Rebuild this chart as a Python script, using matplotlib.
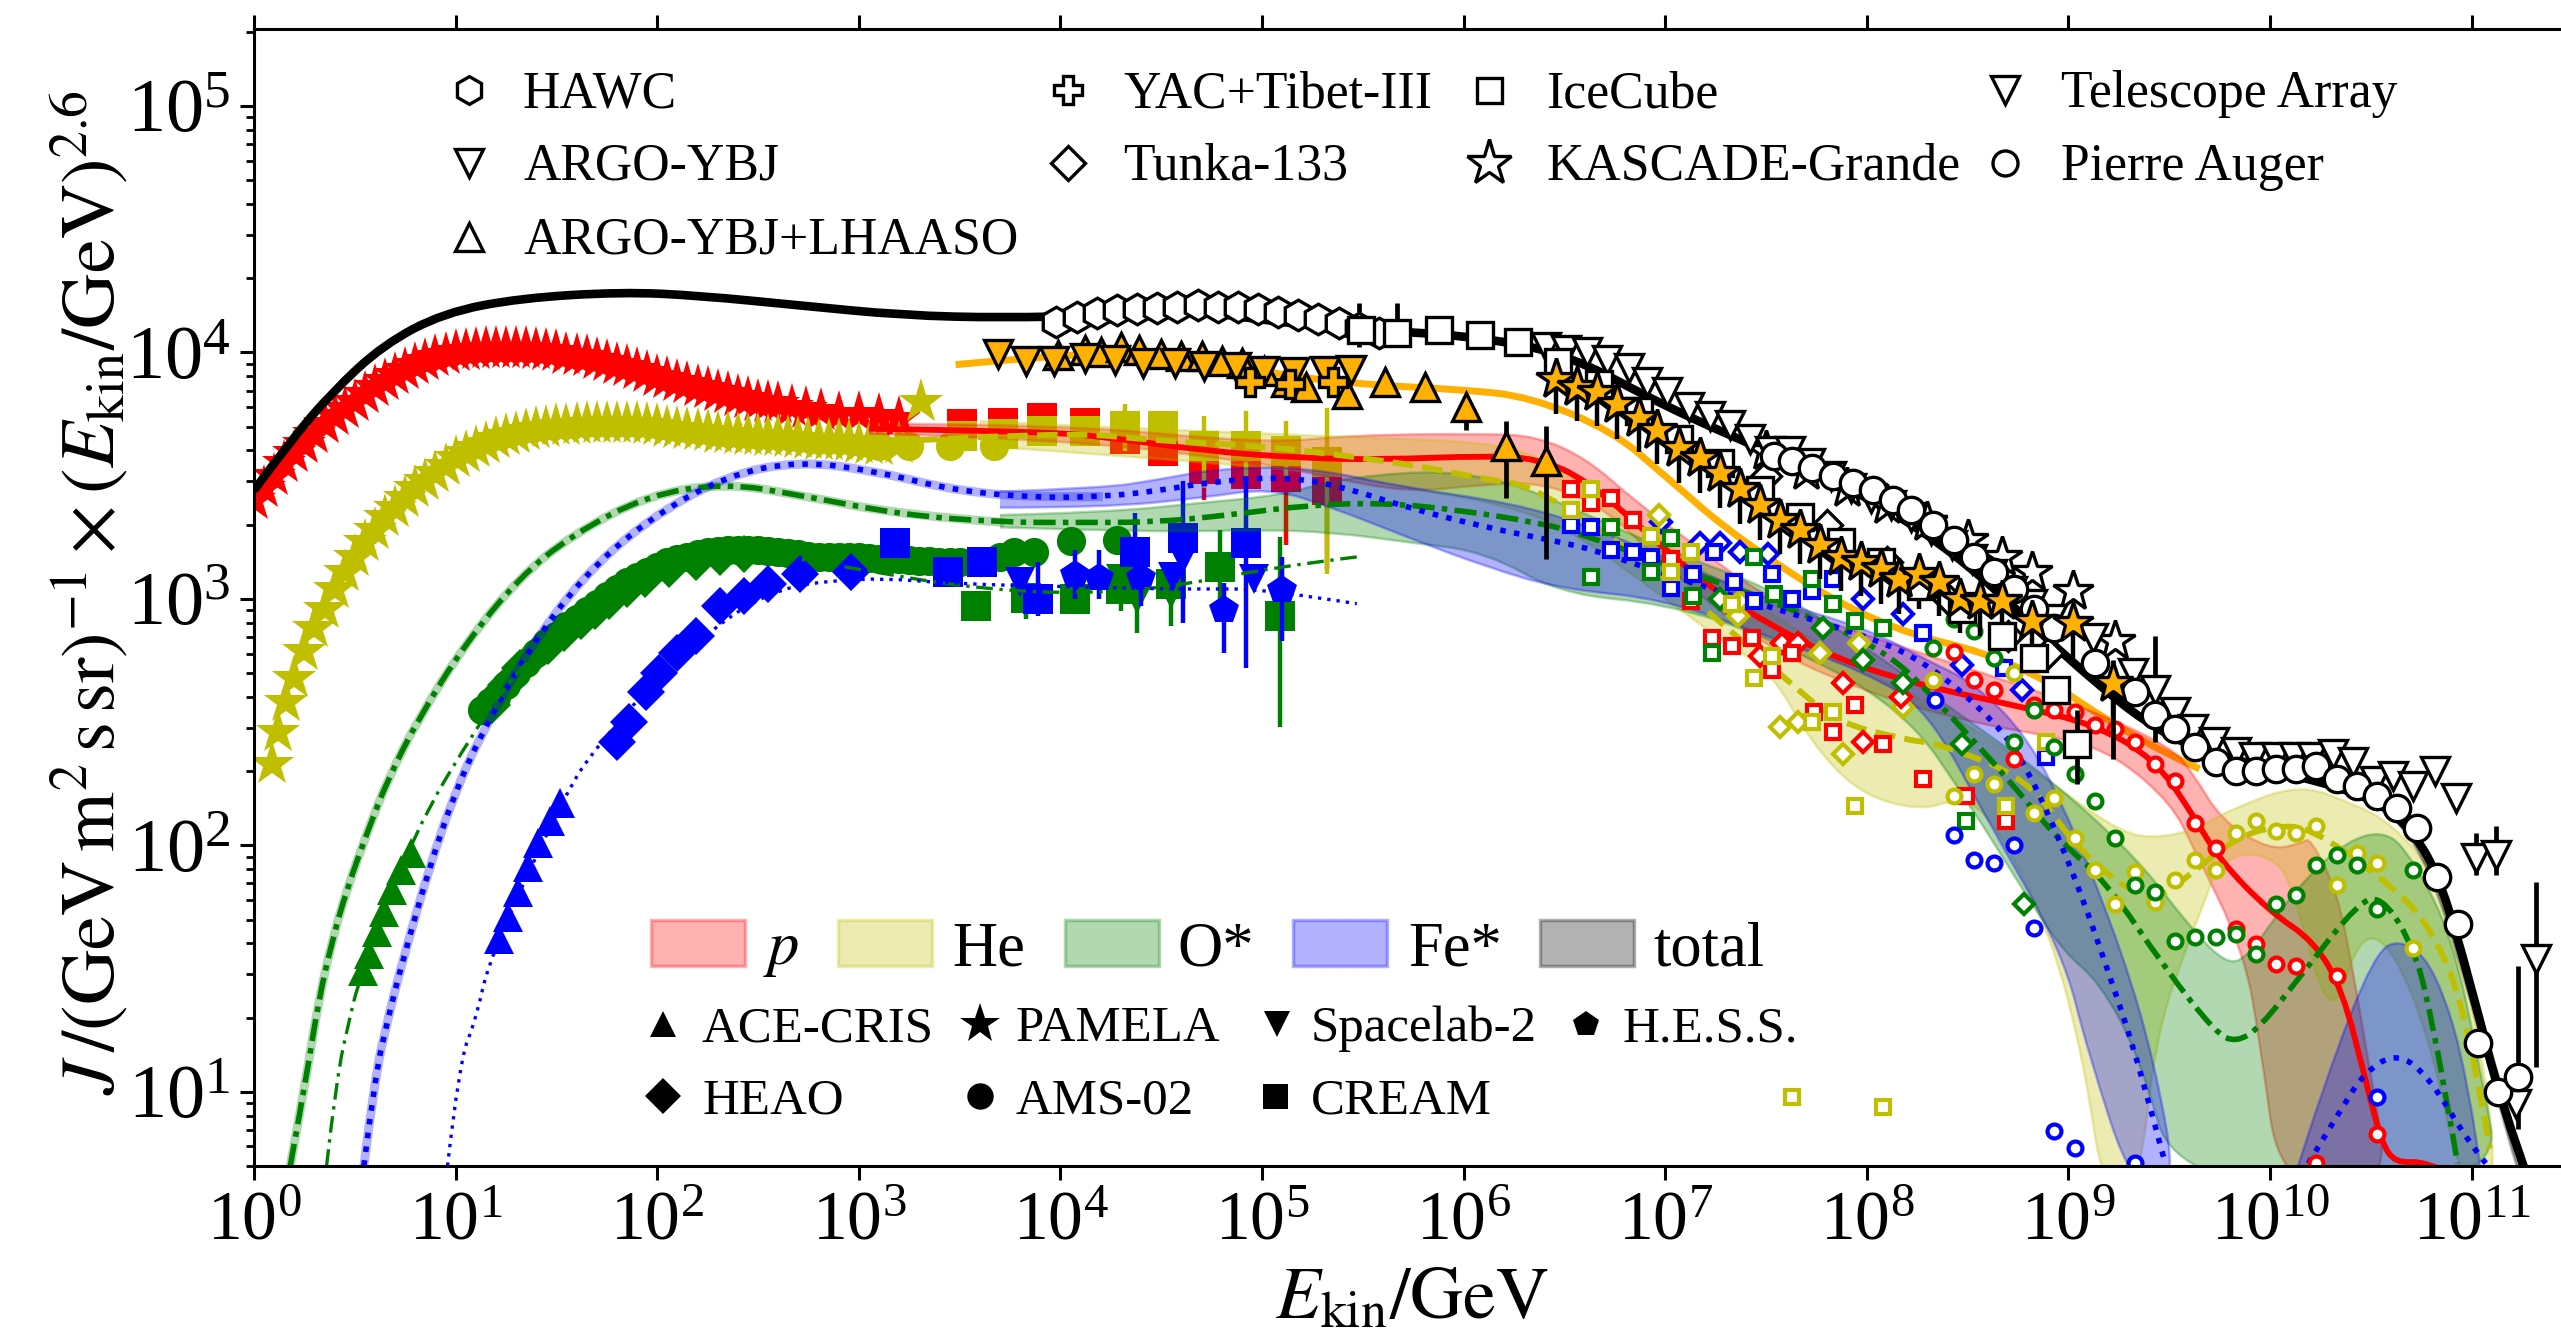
import numpy as np
import matplotlib
matplotlib.use('Agg')
import matplotlib.pyplot as plt
from matplotlib.lines import Line2D
from matplotlib.patches import PathPatch, Rectangle
from matplotlib.path import Path
from matplotlib.ticker import LogLocator, NullLocator

plt.rcParams['font.family'] = ['Liberation Serif', 'DejaVu Serif']
plt.rcParams['mathtext.fontset'] = 'stix'

# all values below are log10(E/GeV), log10(J E^2.6)
RED = '#ff0000'
OLIVE = '#bfbf00'
GREEN = '#008000'
BLUE = '#0000ff'
ORANGE = '#ffb000'

# fit curves
total_x = [0, .18, .39, .64, .94, 1.32, 1.83, 2.21, 2.71, 3.22, 3.72, 4.2, 4.6, 5, 5.5, 6, 6.5, 7, 7.5, 8, 8.5, 9, 9.5, 10, 10.5, 10.71, 10.85, 11, 11.15, 11.3]
total_y = [3.44, 3.64, 3.84, 4.03, 4.16, 4.22, 4.245, 4.23, 4.19, 4.15, 4.14, 4.15, 4.18, 4.13, 4.09, 4.07, 4.0, 3.78, 3.6, 3.42, 3.15, 2.75, 2.42, 2.31, 2.2, 2.06, 1.85, 1.42, 0.94, 0.6]
heavy_x = [3.48, 4, 4.5, 5, 5.47, 5.98, 6.33, 6.74, 6.99, 7.37, 8.04, 8.75, 9.35, 9.65]
heavy_y = [3.95, 3.99, 4.0, 3.92, 3.87, 3.85, 3.82, 3.68, 3.505, 3.235, 2.89, 2.75, 2.42, 2.31]
p_x = [3.05, 3.83, 4.21, 4.71, 5.22, 5.6, 6.11, 6.36, 6.61, 7, 7.25, 7.53, 7.84, 8.26, 8.75, 9.13, 9.43, 9.62, 9.75, 10, 10.22, 10.36, 10.47, 10.55, 10.62, 10.77, 10.95]
p_y = [3.69, 3.68, 3.66, 3.60, 3.57, 3.565, 3.58, 3.57, 3.485, 3.2, 3.03, 2.89, 2.76, 2.65, 2.565, 2.49, 2.35, 2.12, 1.94, 1.73, 1.61, 1.41, 1.06, .8, .71, .72, .65]
he_x = [3, 4, 4.5, 5, 5.42, 5.77, 6.11, 6.36, 7, 7.66, 7.85, 8.18, 8.37, 8.8, 9.02, 9.24, 9.43, 9.63, 9.83, 10.03, 10.2, 10.52, 10.79, 10.98, 11.09]
he_y = [3.63, 3.68, 3.64, 3.62, 3.58, 3.54, 3.485, 3.455, 3.1, 2.63, 2.5, 2.43, 2.41, 2.27, 2.01, 1.85, 1.77, 1.9, 2.03, 2.08, 2.07, 1.89, 1.69, 1.31, .77]
o_x = [.18, .26, .32, .39, .46, .565, .665, .82, 1.05, 1.32, 1.58, 1.95, 2.34, 2.71, 3.22, 3.72, 4.08, 4.46, 4.84, 5.22, 5.6, 5.98, 6.36, 6.56, 7, 7.5, 8.09, 8.4, 8.7, 8.94, 9.19, 9.48, 9.73, 9.83, 9.95, 10.16, 10.44, 10.55, 10.68, 10.79, 10.93]
o_y = [.7, 1.06, 1.37, 1.62, 1.82, 2.06, 2.27, 2.52, 2.82, 3.09, 3.26, 3.42, 3.47, 3.42, 3.34, 3.31, 3.31, 3.31, 3.34, 3.38, 3.39, 3.36, 3.31, 3.27, 3.14, 3.0, 2.8, 2.54, 2.27, 2.03, 1.85, 1.5, 1.24, 1.2, 1.26, 1.48, 1.77, 1.79, 1.64, 1.38, .71]
o_thin_x = [.36, .41, .475, .52, .79, 1.12, 1.3, 1.6, 2, 2.5, 3, 3.5, 4, 4.5, 5.07, 5.47]
o_thin_y = [.7, 1.06, 1.3, 1.45, 2.05, 2.5, 2.7, 2.95, 3.12, 3.19, 3.12, 3.05, 3.02, 3.04, 3.13, 3.17]
fe_x = [.545, .6, .665, .74, .87, .99, 1.12, 1.35, 1.63, 1.95, 2.34, 2.71, 3.1, 3.47, 3.88, 4.21, 4.46, 4.79, 5.14, 5.42, 5.72, 6.11, 6.48, 6.64, 7, 7.5, 8, 8.3, 8.64, 8.8, 9.02, 9.21, 9.35, 9.48]
fe_y = [.7, 1.06, 1.3, 1.54, 1.91, 2.2, 2.44, 2.78, 3.09, 3.32, 3.5, 3.56, 3.515, 3.44, 3.41, 3.415, 3.435, 3.48, 3.495, 3.45, 3.37, 3.29, 3.23, 3.2, 3.1, 2.97, 2.85, 2.74, 2.5, 2.31, 1.9, 1.46, 1.11, .71]
fe2_x = [10.19, 10.36, 10.47, 10.63, 10.79, 10.98, 11.07]
fe2_y = [.71, .94, 1.08, 1.16, 1.06, .8, .71]
fe_thin_x = [.96, 1.02, 1.1, 1.17, 1.55, 1.7, 2, 2.5, 3, 3.5, 4, 4.5, 4.71, 5.01, 5.47]
fe_thin_y = [.7, 1.13, 1.29, 1.55, 2.22, 2.4, 2.68, 3.03, 3.09, 3.06, 3.05, 3.04, 3.04, 3.04, 2.98]

# uncertainty bands, outline going up then back along the lower edge
p_band_x = [3.05, 4, 5, 5.47, 6.11, 6.36, 6.61, 6.86, 7.12, 7.5, 8, 8.5, 9.08, 9.51, 9.62, 9.76, 10, 10.16, 10.2, 10.33, 10.41, 10.49, 10.6,
            10.05, 9.95, 9.87, 9.62, 9.51, 9.24, 9, 8.5, 8, 7.5, 7, 6.7, 6.4, 6.11, 5.72, 5.3, 5, 4, 3.05]
p_band_y = [3.71, 3.71, 3.63, 3.665, 3.67, 3.66, 3.57, 3.39, 3.235, 3.0, 2.85, 2.72, 2.56, 2.40, 2.29, 2.10, 1.98, 2.01, 2.03, 1.82, 1.50, 1.11, .6,
            .6, 1.2, 1.57, 1.99, 2.17, 2.36, 2.43, 2.5, 2.62, 2.8, 3.13, 3.37, 3.47, 3.465, 3.43, 3.5, 3.55, 3.65, 3.67]
he_band_x = [3.6, 5.22, 6.11, 6.4, 6.7, 7, 7.5, 8, 8.5, 9, 9.27, 9.43, 9.62, 9.79, 10.14, 10.41, 10.6, 10.82, 10.98, 11.15,
             10.95, 10.8, 10.6, 10.44, 10.3, 10.1, 10, 9.85, 9.73, 9.68, 9.6, 9.43, 9.35, 9.17, 9.08, 8.91, 8.62, 8.45, 8.26, 7.96, 7.72, 7.53, 7.3, 7, 6.5, 6.1, 5.7, 5.22, 3.6]
he_band_y = [3.72, 3.66, 3.64, 3.57, 3.42, 3.22, 2.95, 2.7, 2.5, 2.2, 2.05, 2.03, 2.06, 2.14, 2.25, 2.17, 2.09, 1.89, 1.5, .6,
             .6, 1.2, 1.6, 1.64, 1.25, 1.87, 1.95, 1.97, 1.9, 1.78, 1.62, 1.22, .6, .6, 1.11, 1.65, 2.12, 2.19, 2.14, 2.21, 2.42, 2.7, 2.82, 3.0, 3.3, 3.4, 3.45, 3.53, 3.62]
o_band_x = [3.7, 4.21, 4.71, 5.09, 5.35, 5.72, 5.98, 6.23, 6.48, 7, 7.5, 7.88, 8.48, 8.91, 9.35, 9.59, 9.79, 9.9, 10, 10.16, 10.38, 10.58, 10.71, 10.9, 11.04, 11.15,
            9.54, 9.35, 9.15, 8.97, 8.75, 8.53, 8.18, 7.5, 7, 6.48, 6.11, 5.72, 5.35, 4.97, 4.46, 3.7]
o_band_y = [3.34, 3.35, 3.39, 3.42, 3.48, 3.515, 3.51, 3.47, 3.39, 3.2, 3.05, 2.87, 2.52, 2.27, 1.94, 1.68, 1.51, 1.56, 1.68, 1.85, 2.02, 2.06, 1.94, 1.64, 1.11, .6,
            .6, 1.15, 1.45, 1.57, 1.85, 2.14, 2.56, 2.85, 2.98, 3.02, 3.19, 3.23, 3.27, 3.28, 3.27, 3.29]
fe_band_x = [3.7, 4.21, 4.46, 4.79, 5.22, 5.72, 6.23, 6.61, 6.99, 7.5, 8, 8.3, 8.53, 8.8, 9.02, 9.27, 9.43, 9.54,
             9.32, 9.1, 8.97, 8.6, 8.3, 8, 7.5, 6.99, 6.48, 6.11, 5.72, 5.35, 5.04, 4.71, 4.21, 3.7]
fe_band_y = [3.435, 3.45, 3.48, 3.53, 3.535, 3.45, 3.39, 3.30, 3.17, 3.0, 2.88, 2.75, 2.66, 2.44, 2.08, 1.56, 1.11, .6,
             .6, 1.15, 1.57, 2.1, 2.55, 2.7, 2.85, 3.0, 3.04, 3.13, 3.25, 3.37, 3.45, 3.41, 3.37, 3.37]
fe2_band_x = [10.1, 10.27, 10.52, 10.66, 10.82, 10.98, 11.06]
fe2_band_y = [.6, 1.04, 1.57, 1.62, 1.5, 1.08, .6]
total_band_x = [9.9, 10.5, 10.7, 10.9, 11.1, 11.3, 11.25, 11.0, 10.8, 10.6, 10.4, 9.9]
total_band_y = [2.34, 2.24, 2.12, 1.75, 1.15, .6, .6, 1.36, 1.9, 2.14, 2.24, 2.29]

# low energy data
pam_p_x = [0, .05, .1, .15, .2, .25, .3, .35, .4, .45, .5, .55, .6, .65, .7, .75, .8, .85, .9, .95, 1, 1.05, 1.1, 1.15, 1.2, 1.25, 1.3, 1.35, 1.4, 1.45, 1.5, 1.55, 1.6, 1.65, 1.7, 1.75, 1.8, 1.85, 1.9, 1.95, 2, 2.05, 2.1, 2.15, 2.2, 2.25, 2.3, 2.35, 2.4, 2.45, 2.5, 2.55, 2.6, 2.67, 2.74, 2.81, 2.9, 3, 3.1, 3.2]
pam_p_y = [3.4, 3.45, 3.5, 3.55, 3.59, 3.63, 3.67, 3.71, 3.74, 3.77, 3.8, 3.83, 3.86, 3.885, 3.91, 3.93, 3.95, 3.965, 3.98, 3.99, 4, 4.005, 4.01, 4.015, 4.015, 4.015, 4.015, 4.012, 4.01, 4.005, 4, 3.99, 3.985, 3.98, 3.97, 3.96, 3.95, 3.94, 3.93, 3.915, 3.9, 3.89, 3.88, 3.87, 3.86, 3.85, 3.84, 3.83, 3.82, 3.81, 3.8, 3.795, 3.79, 3.78, 3.77, 3.76, 3.75, 3.75, 3.74, 3.73]
pam_he_x = [.09, .12, .16, .2, .25, .3, .35, .4, .45, .5, .55, .6, .65, .7, .75, .8, .85, .9, .95, 1, 1.05, 1.1, 1.15, 1.2, 1.25, 1.3, 1.35, 1.4, 1.45, 1.5, 1.55, 1.6, 1.65, 1.7, 1.75, 1.8, 1.85, 1.9, 1.95, 2, 2.05, 2.1, 2.15, 2.2, 2.25, 2.3, 2.35, 2.4, 2.45, 2.5, 2.55, 2.6, 2.65, 2.7, 2.75, 2.8, 2.85, 2.9, 2.95, 3, 3.05, 3.1, 3.2, 3.31]
pam_he_y = [2.33, 2.46, 2.58, 2.68, 2.79, 2.88, 2.96, 3.04, 3.11, 3.17, 3.23, 3.28, 3.33, 3.37, 3.41, 3.45, 3.48, 3.51, 3.54, 3.57, 3.59, 3.61, 3.63, 3.65, 3.66, 3.67, 3.68, 3.69, 3.695, 3.70, 3.703, 3.705, 3.708, 3.71, 3.71, 3.71, 3.71, 3.71, 3.705, 3.70, 3.695, 3.69, 3.685, 3.68, 3.675, 3.67, 3.668, 3.665, 3.662, 3.66, 3.658, 3.655, 3.652, 3.65, 3.645, 3.64, 3.64, 3.64, 3.635, 3.63, 3.625, 3.62, 3.63, 3.80]
ace_o_x = [.54, .57, .61, .645, .685, .73, .78]
ace_o_y = [1.49, 1.56, 1.65, 1.73, 1.82, 1.90, 1.97]
ace_fe_x = [1.215, 1.26, 1.31, 1.36, 1.41, 1.47, 1.52]
ace_fe_y = [1.62, 1.71, 1.81, 1.91, 2.01, 2.10, 2.17]
heao_fe_x = [1.80, 1.86, 1.945, 2.01, 2.1, 2.19, 2.31, 2.43, 2.55, 2.71, 2.96]
heao_fe_y = [2.42, 2.50, 2.62, 2.70, 2.78, 2.85, 2.97, 3.01, 3.06, 3.10, 3.11]
heao_o_x = [1.18, 1.25, 1.32, 1.39, 1.46, 1.54, 1.62, 1.69, 1.76, 1.85, 1.94, 2.06, 2.19, 2.31, 2.43]
heao_o_y = [2.57, 2.65, 2.72, 2.77, 2.81, 2.86, 2.91, 2.95, 2.99, 3.04, 3.08, 3.12, 3.15, 3.17, 3.18]
ams_o_x = [1.13, 1.17, 1.2, 1.25, 1.3, 1.35, 1.4, 1.45, 1.5, 1.55, 1.6, 1.65, 1.7, 1.75, 1.8, 1.85, 1.9, 1.95, 2, 2.05, 2.1, 2.15, 2.2, 2.25, 2.3, 2.35, 2.4, 2.45, 2.5, 2.55, 2.6, 2.65, 2.7, 2.75, 2.8, 2.85, 2.9, 2.95, 3, 3.05, 3.1, 3.15, 3.2, 3.25, 3.3, 3.35, 3.4, 3.45, 3.5, 3.6, 3.7, 3.77, 3.87, 4.05, 4.28]
ams_o_y = [2.55, 2.58, 2.6, 2.65, 2.7, 2.74, 2.78, 2.82, 2.85, 2.89, 2.92, 2.95, 2.98, 3.01, 3.04, 3.07, 3.09, 3.11, 3.13, 3.15, 3.16, 3.17, 3.18, 3.19, 3.195, 3.2, 3.2, 3.2, 3.2, 3.195, 3.19, 3.185, 3.18, 3.175, 3.17, 3.17, 3.17, 3.17, 3.17, 3.165, 3.16, 3.16, 3.16, 3.157, 3.155, 3.152, 3.15, 3.15, 3.15, 3.15, 3.17, 3.19, 3.19, 3.235, 3.24]
ams_he_x = [3.1, 3.25, 3.45, 3.67]
ams_he_y = [3.62, 3.62, 3.62, 3.62]
cream_x = [3.51, 3.715, 3.91, 4.12, 4.32, 4.51, 4.71, 4.92, 5.12, 5.32]
cream_p_y = [3.71, 3.715, 3.735, 3.715, 3.65, 3.60, 3.525, 3.505, 3.495, 3.44]
cream_he_y = [3.66, 3.67, 3.68, 3.68, 3.70, 3.70, 3.62, 3.62, 3.60, 3.555]
cream_o_x = [3.58, 3.83, 4.07, 4.30, 4.55, 4.79, 5.09]
cream_o_y = [2.97, 3.005, 3.0, 3.04, 3.06, 3.13, 2.93]
cream_fe_x = [3.18, 3.44, 3.61, 3.89, 4.37, 4.61, 4.92]
cream_fe_y = [3.225, 3.11, 3.15, 3.0, 3.19, 3.245, 3.225]
hess_x = [4.07, 4.19, 4.40, 4.81, 5.10]
hess_y = [3.095, 3.085, 3.085, 2.955, 3.035]
sl2_fe_x = [3.80, 4.56, 4.61, 4.96]
sl2_fe_y = [3.07, 3.09, 3.16, 3.08]
sl2_o_x = [4.30, 4.38, 4.55]
sl2_o_y = [3.08, 3.0, 3.02]

# all particle experiments
hawc_x = [3.98, 4.08, 4.18, 4.28, 4.38, 4.48, 4.58, 4.68, 4.78, 4.88, 4.98, 5.08, 5.18, 5.28, 5.38, 5.48, 5.58]
hawc_y = [4.125, 4.145, 4.16, 4.17, 4.175, 4.18, 4.185, 4.19, 4.185, 4.185, 4.175, 4.165, 4.15, 4.135, 4.12, 4.10, 4.08]
ice_x = [5.49, 5.67, 5.88, 6.08, 6.27, 6.47, 6.67, 6.87, 7.07, 7.27, 7.47, 7.67, 7.87, 8.07, 8.27, 8.47, 8.67, 8.83, 8.94, 9.04]
ice_y = [4.09, 4.08, 4.09, 4.07, 4.04, 3.96, 3.87, 3.76, 3.65, 3.55, 3.44, 3.33, 3.23, 3.15, 3.05, 2.96, 2.85, 2.76, 2.63, 2.41]
ta_x = [6.41, 6.51, 6.61, 6.71, 6.82, 6.91, 7.01, 7.12, 7.22, 7.32, 7.42, 7.52, 7.62, 7.72, 7.82, 7.92, 8.02, 8.12, 8.22, 8.32, 8.42, 8.52, 8.62, 8.72, 8.82, 8.92, 9.12, 9.32, 9.43, 9.53, 9.62, 9.72, 9.83, 9.92, 10.03, 10.12, 10.21, 10.31, 10.41, 10.52, 10.61, 10.71, 10.82, 10.92, 11.02, 11.12, 11.22, 11.32]
ta_y = [4.02, 4.01, 4.0, 3.97, 3.935, 3.88, 3.84, 3.78, 3.74, 3.705, 3.65, 3.60, 3.60, 3.55, 3.50, 3.45, 3.41, 3.38, 3.33, 3.28, 3.22, 3.16, 3.10, 3.03, 2.98, 2.92, 2.84, 2.70, 2.63, 2.54, 2.47, 2.42, 2.38, 2.36, 2.36, 2.36, 2.36, 2.37, 2.34, 2.26, 2.28, 2.24, 2.30, 2.19, 1.95, 1.96, 0.95, 1.54]
tunka_x = [7.5, 7.8, 8.1, 8.4, 8.7, 8.9]
tunka_y = [3.5, 3.3, 3.15, 3.0, 2.85, 2.78]
kas_w_x = [7.5, 7.7, 7.9, 8.1, 8.3, 8.5, 8.67, 8.82, 9.02, 9.23]
kas_w_y = [3.6, 3.52, 3.45, 3.38, 3.31, 3.24, 3.17, 3.11, 3.03, 2.83]
auger_x = [7.54, 7.63, 7.73, 7.83, 7.93, 8.03, 8.13, 8.22, 8.33, 8.43, 8.53, 8.63, 8.73, 8.83, 8.93, 9.13, 9.33, 9.43, 9.53, 9.63, 9.73, 9.83, 9.93, 10.03, 10.13, 10.23, 10.33, 10.43, 10.53, 10.63, 10.73, 10.83, 10.93, 11.03, 11.13, 11.23]
auger_y = [3.58, 3.56, 3.53, 3.50, 3.47, 3.44, 3.40, 3.36, 3.30, 3.24, 3.17, 3.11, 3.04, 2.96, 2.88, 2.74, 2.62, 2.53, 2.47, 2.40, 2.34, 2.30, 2.30, 2.31, 2.31, 2.32, 2.27, 2.24, 2.20, 2.15, 2.07, 1.87, 1.68, 1.20, 1.00, 1.06]
kas_o_x = [6.46, 6.56, 6.66, 6.76, 6.87, 6.96, 7.07, 7.17, 7.27, 7.37, 7.47, 7.57, 7.67, 7.77, 7.87, 7.97, 8.07, 8.16, 8.26, 8.36, 8.46, 8.56, 8.67, 8.82, 9.02, 9.22]
kas_o_y = [3.89, 3.86, 3.84, 3.79, 3.735, 3.685, 3.61, 3.57, 3.51, 3.445, 3.38, 3.32, 3.28, 3.22, 3.17, 3.15, 3.12, 3.08, 3.10, 3.07, 3.00, 2.99, 2.99, 2.91, 2.90, 2.66]
tibet_x = [4.94, 5.14, 5.35]
tibet_y = [3.88, 3.87, 3.88]
argo_x = [3.69, 3.83, 3.97, 4.12, 4.27, 4.41, 4.57, 4.71, 4.87, 5.01, 5.16, 5.31, 5.44]
argo_y = [3.995, 3.965, 3.965, 3.975, 3.97, 3.955, 3.955, 3.945, 3.94, 3.925, 3.92, 3.925, 3.93]
lhaaso_x = [3.99, 4.12, 4.20, 4.30, 4.39, 4.50, 4.60, 4.70, 4.80, 4.90, 5.01, 5.12, 5.22, 5.42, 5.61, 5.81, 6.01, 6.21, 6.41]
lhaaso_y = [3.99, 4.01, 4.0, 4.02, 4.01, 3.995, 3.985, 3.985, 3.965, 3.955, 3.925, 3.88, 3.86, 3.83, 3.88, 3.86, 3.78, 3.62, 3.56]

# open symbols at high energy
sq_p_x = [6.53, 6.63, 6.73, 6.84, 7.03, 7.13, 7.23, 7.33, 7.43, 7.53, 7.63, 7.74, 7.83, 7.94, 8.08, 8.28, 8.49, 8.69]
sq_p_y = [3.445, 3.39, 3.41, 3.32, 3.16, 2.99, 2.84, 2.81, 2.84, 2.71, 2.78, 2.54, 2.46, 2.57, 2.41, 2.27, 2.20, 2.10]
sq_he_x = [6.53, 6.63, 6.93, 7.03, 7.13, 7.33, 7.53, 7.44, 7.73, 7.83, 7.94, 8.69, 8.89, 7.63, 8.08]
sq_he_y = [3.36, 3.445, 3.255, 3.11, 3.19, 2.98, 2.77, 2.68, 2.50, 2.54, 2.16, 2.16, 2.42, .98, .94]
sq_o_x = [6.63, 6.73, 6.93, 7.03, 7.14, 7.23, 7.44, 7.54, 7.73, 7.83, 7.94, 8.08, 8.49]
sq_o_y = [3.09, 3.29, 3.11, 3.245, 3.01, 2.78, 3.17, 3.02, 3.08, 2.98, 2.91, 2.88, 2.10]
sq_fe_x = [6.53, 6.63, 6.73, 6.84, 6.93, 7.03, 7.14, 7.24, 7.34, 7.44, 7.53, 7.63, 7.73, 7.83, 8.28, 8.68, 8.89]
sq_fe_y = [3.30, 3.29, 3.20, 3.19, 3.17, 3.045, 3.10, 3.19, 3.07, 2.99, 3.10, 3.0, 3.03, 3.08, 2.86, 2.72, 2.36]
dm_he_x = [6.97, 7.36, 7.37, 7.57, 7.66, 7.77, 7.88, 7.96, 8.18]
dm_he_y = [3.34, 2.93, 2.99, 2.48, 2.50, 2.78, 2.37, 2.82, 2.56]
dm_p_x = [7.47, 7.58, 7.66, 7.88, 7.98, 8.17]
dm_p_y = [2.77, 2.82, 2.82, 2.66, 2.42, 2.60]
dm_o_x = [7.27, 7.78, 7.98, 8.18, 8.47, 8.78]
dm_o_y = [3.0, 2.88, 2.75, 2.66, 2.41, 1.76]
dm_fe_x = [6.98, 7.17, 7.27, 7.37, 7.51, 7.98, 8.18, 8.47, 8.77]
dm_fe_y = [3.31, 3.225, 3.225, 3.19, 3.18, 3.0, 2.94, 2.73, 2.63]
ci_p_x = [8.43, 8.53, 8.63, 8.73, 8.83, 8.93, 9.03, 9.13, 9.23, 9.33, 9.43, 9.53, 9.63, 9.73, 9.83, 9.93, 10.03, 10.13, 10.23, 10.33, 10.53]
ci_p_y = [2.785, 2.67, 2.63, 2.35, 2.57, 2.55, 2.54, 2.49, 2.47, 2.42, 2.33, 2.26, 2.09, 1.99, 1.66, 1.60, 1.52, 1.51, .71, 1.47, .83]
ci_he_x = [8.33, 8.43, 8.53, 8.63, 8.73, 8.83, 8.93, 9.03, 9.13, 9.23, 9.33, 9.43, 9.53, 9.63, 9.73, 9.83, 9.93, 10.03, 10.13, 10.23, 10.33, 10.43, 10.53, 10.71]
ci_he_y = [2.67, 2.20, 2.29, 2.25, 2.70, 2.13, 2.19, 2.03, 1.90, 1.76, 1.89, 1.77, 1.86, 1.94, 1.90, 2.05, 2.10, 2.06, 2.05, 2.08, 1.84, 1.97, 1.93, 1.585]
ci_o_x = [8.33, 8.43, 8.53, 8.63, 8.73, 8.83, 8.93, 9.03, 9.13, 9.23, 9.33, 9.43, 9.53, 9.63, 9.73, 9.83, 9.93, 10.03, 10.13, 10.23, 10.33, 10.43, 10.53, 10.71]
ci_o_y = [2.80, 2.92, 2.87, 2.76, 2.42, 2.55, 2.40, 2.29, 2.18, 2.03, 1.84, 1.81, 1.61, 1.63, 1.63, 1.64, 1.56, 1.76, 1.80, 1.92, 1.96, 1.92, 1.74, 1.90]
ci_fe_x = [8.34, 8.43, 8.53, 8.63, 8.73, 8.83, 8.93, 9.03, 9.33, 10.53]
ci_fe_y = [2.59, 2.04, 1.94, 1.93, 2.0, 1.665, .84, .77, .71, .98]

# error bars: x, low, high
bars_black_x = [5.48, 5.67, 6.01, 6.21, 6.41, 9.04, 9.22, 9.43, 11.02, 11.12, 11.23, 11.32]
bars_black_lo = [4.02, 4.03, 3.685, 3.41, 3.16, 2.25, 2.35, 2.42, 1.88, 1.88, .85, 1.10]
bars_black_hi = [4.2, 4.2, 3.78, 3.72, 3.70, 2.55, 2.75, 2.85, 2.05, 2.08, 1.51, 1.85]
bars_blue_x = [3.89, 4.07, 4.19, 4.37, 4.61, 4.81, 4.92, 5.10, 4.40]
bars_blue_lo = [2.93, 3.0, 3.0, 3.1, 2.90, 2.78, 2.72, 2.83, 2.97]
bars_blue_hi = [3.15, 3.2, 3.2, 3.35, 3.48, 3.065, 3.495, 3.17, 3.2]
bars_green_x = [3.83, 4.30, 4.38, 4.55, 4.79, 5.09]
bars_green_lo = [2.92, 2.95, 2.86, 2.89, 2.98, 2.48]
bars_green_hi = [3.1, 3.14, 3.1, 3.15, 3.28, 3.25]
bars_red_x = [4.71, 5.12, 5.32]
bars_red_lo = [3.4, 3.22, 3.12]
bars_red_hi = [3.56, 3.53, 3.5]
bars_olive_x = [4.32, 4.71, 4.92, 5.12, 5.32]
bars_olive_lo = [3.6, 3.45, 3.5, 3.5, 3.10]
bars_olive_hi = [3.79, 3.74, 3.76, 3.72, 3.775]

W, H = 2561, 1332
AX_L, AX_R, AX_T, AX_B = 254, 2561, 29, 1166


def px(x, y):
    return x / W, 1 - y / H


def lin(v):
    return 10 ** np.asarray(v, dtype=float)


def curve_path(x, y):
    # quadratic bezier path with the read points as control points
    pts = np.column_stack([lin(x), lin(y)])
    verts = [pts[0]]
    codes = [Path.MOVETO]
    for i in range(1, len(pts) - 1):
        if i == len(pts) - 2:
            end = pts[i + 1]
        else:
            end = np.sqrt(pts[i] * pts[i + 1])
        verts += [pts[i], end]
        codes += [Path.CURVE3, Path.CURVE3]
    return Path(np.array(verts), codes)


fig = plt.figure(figsize=(W / 100, H / 100), dpi=100)
ax = fig.add_axes([AX_L / W, 1 - AX_B / H, (AX_R - AX_L) / W, (AX_B - AX_T) / H])
ax.set_xscale('log')
ax.set_yscale('log')
ax.set_xlim(1, 10 ** 11.443)
ax.set_ylim(5, 2.05e5)


def band(x, y, color, z=5):
    ax.add_patch(PathPatch(curve_path(x, y), facecolor=color, edgecolor=color, alpha=0.3, lw=1.8, zorder=z))


def line(x, y, color, ls='-', lw=4.0, z=6, alpha=1.0):
    ax.add_patch(PathPatch(curve_path(x, y), fill=False, edgecolor=color, ls=ls, lw=lw, zorder=z,
                           alpha=alpha, capstyle='butt'))


def filled(x, y, color, m, ms, z=3):
    ax.plot(lin(x), lin(y), ls='none', marker=m, ms=ms, mfc=color, mec=color, mew=0, zorder=z)


def open_pts(x, y, color, m, ms=9.5, z=8):
    ax.plot(lin(x), lin(y), ls='none', marker=m, ms=ms, mfc='white', mec=color, mew=3.0, zorder=z)


def boxed(x, y, face, m, ms, z=10):
    ax.plot(lin(x), lin(y), ls='none', marker=m, ms=ms, mfc=face, mec='black', mew=2.4, zorder=z)


# bands and fits
band(p_band_x, p_band_y, RED)
band(he_band_x, he_band_y, OLIVE)
band(o_band_x, o_band_y, GREEN)
band(fe_band_x, fe_band_y, BLUE)
band(fe2_band_x, fe2_band_y, BLUE)
band(total_band_x, total_band_y, 'black')
line(o_x[:16], o_y[:16], GREEN, lw=6.5, z=5, alpha=0.3)
line(fe_x[:16], fe_y[:16], BLUE, lw=6.5, z=5, alpha=0.3)

line(total_x, total_y, 'black', lw=6.2, z=6)
line(heavy_x, heavy_y, ORANGE, lw=5.0, z=2)
line(p_x, p_y, RED, lw=4.2)
line(he_x, he_y, OLIVE, ls=(0, (3.5, 1.6)), lw=4.2)
line(o_x, o_y, GREEN, ls=(0, (4, 1.3, 1, 1.3)), lw=4.0)
line(fe_x, fe_y, BLUE, ls=(0, (1, 1.5)), lw=4.0)
line(fe2_x, fe2_y, BLUE, ls=(0, (1, 1.5)), lw=4.0)
line(o_thin_x, o_thin_y, GREEN, ls=(0, (5, 2, 1, 2)), lw=2.4)
line(fe_thin_x, fe_thin_y, BLUE, ls=(0, (1, 1.8)), lw=2.4)

# low energy data
ax.vlines(lin(bars_red_x), lin(bars_red_lo), lin(bars_red_hi), color=RED, lw=3.2, zorder=3)
filled(pam_p_x, pam_p_y, RED, '*', 34)
filled(cream_x, cream_p_y, RED, 's', 21)
ax.vlines(lin(bars_olive_x), lin(bars_olive_lo), lin(bars_olive_hi), color=OLIVE, lw=3.2, zorder=3)
filled(pam_he_x, pam_he_y, OLIVE, '*', 34)
filled(ams_he_x, ams_he_y, OLIVE, 'o', 21)
filled(cream_x, cream_he_y, OLIVE, 's', 21)
ax.vlines(lin(bars_green_x), lin(bars_green_lo), lin(bars_green_hi), color=GREEN, lw=3.2, zorder=3)
filled(ace_o_x, ace_o_y, GREEN, '^', 22)
filled(ams_o_x, ams_o_y, GREEN, 'o', 21)
filled(heao_o_x, heao_o_y, GREEN, 'D', 19)
filled(sl2_o_x, sl2_o_y, GREEN, 'v', 22)
filled(cream_o_x, cream_o_y, GREEN, 's', 21)
ax.vlines(lin(bars_blue_x), lin(bars_blue_lo), lin(bars_blue_hi), color=BLUE, lw=3.2, zorder=4)
filled(ace_fe_x, ace_fe_y, BLUE, '^', 22, z=4)
filled(heao_fe_x, heao_fe_y, BLUE, 'D', 19, z=4)
filled(sl2_fe_x, sl2_fe_y, BLUE, 'v', 22, z=4)
filled(cream_fe_x, cream_fe_y, BLUE, 's', 21, z=4)
filled(hess_x, hess_y, BLUE, 'p', 22, z=4)

# open coloured symbols
open_pts(dm_fe_x, dm_fe_y, BLUE, 'D', 10)
open_pts(dm_he_x, dm_he_y, OLIVE, 'D', 10)
open_pts(dm_p_x, dm_p_y, RED, 'D', 10)
open_pts(dm_o_x, dm_o_y, GREEN, 'D', 10)
open_pts(sq_fe_x, sq_fe_y, BLUE, 's')
open_pts(sq_p_x, sq_p_y, RED, 's')
open_pts(sq_he_x, sq_he_y, OLIVE, 's')
open_pts(sq_o_x, sq_o_y, GREEN, 's')
open_pts(ci_fe_x, ci_fe_y, BLUE, 'o', 10)
open_pts(ci_p_x, ci_p_y, RED, 'o', 10)
open_pts(ci_he_x, ci_he_y, OLIVE, 'o', 10)
open_pts(ci_o_x, ci_o_y, GREEN, 'o', 10)

# all particle and heavy black outlined symbols
ax.vlines(lin(bars_black_x), lin(bars_black_lo), lin(bars_black_hi), color='black', lw=3.4, zorder=9)
ax.vlines(lin(kas_o_x), lin(np.array(kas_o_y) - 0.14), lin(np.array(kas_o_y) + 0.02), color='black', lw=3.2, zorder=11)
boxed(kas_w_x, kas_w_y, 'white', '*', 30, z=10)
boxed(tunka_x, tunka_y, 'white', 'D', 15, z=10)
boxed(ta_x, ta_y, 'white', 'v', 20, z=10)
boxed(ice_x, ice_y, 'white', 's', 19, z=11)
boxed(hawc_x, hawc_y, 'white', 'h', 22, z=10)
boxed(auger_x, auger_y, 'white', 'o', 19, z=12)
boxed(lhaaso_x, lhaaso_y, ORANGE, '^', 20, z=11)
boxed(argo_x, argo_y, ORANGE, 'v', 20, z=11)
boxed(tibet_x, tibet_y, ORANGE, 'P', 20, z=11)
boxed(kas_o_x, kas_o_y, ORANGE, '*', 30, z=13)

# axes
for name in ['left', 'top', 'bottom']:
    ax.spines[name].set_linewidth(2.2)
    ax.spines[name].set_zorder(20)
ax.spines['right'].set_visible(False)
ax.xaxis.set_major_locator(LogLocator(base=10, numticks=20))
ax.xaxis.set_minor_locator(NullLocator())
ax.yaxis.set_major_locator(LogLocator(base=10, numticks=10))
ax.yaxis.set_minor_locator(LogLocator(base=10, subs=np.arange(2, 10), numticks=10))
ax.tick_params(which='major', direction='out', length=10, width=2.2, labelsize=55, top=True, pad=7)
ax.tick_params(which='minor', direction='out', length=6, width=2.0)
ax.tick_params(axis='x', labelsize=50, pad=8)

fig.text(*px(1412, 1300), r'$E_{\rm kin}/{\rm GeV}$', fontsize=53, ha='center', va='center')
fig.text(*px(90, 593), r'$J\,/({\rm GeV\,m^2\,s\,sr})^{-1}\times(E_{\rm kin}/{\rm GeV})^{2.6}$',
         fontsize=55, rotation=90, ha='center', va='center')

# legend in the top part
top_legend = [
    (469, 523, 94, 'HAWC', 'h'), (469, 523, 167, 'ARGO-YBJ', 'v'), (469, 523, 241, 'ARGO-YBJ+LHAASO', '^'),
    (1068, 1123, 94, 'YAC+Tibet-III', 'P'), (1068, 1123, 167, 'Tunka-133', 'D'),
    (1489, 1546, 94, 'IceCube', 's'), (1489, 1546, 167, 'KASCADE-Grande', '*'),
    (2005, 2061, 94, 'Telescope Array', 'v'), (2005, 2061, 167, 'Pierre Auger', 'o'),
]
legend_ms = {'*': 34, 'D': 17, 's': 18, 'o': 18}
for mx, tx, y, label, m in top_legend:
    xf, yf = px(mx, y - 4)
    fig.add_artist(Line2D([xf], [yf], marker=m, ms=legend_ms.get(m, 20), mfc='white', mec='black', mew=2.4, ls='none', zorder=30))
    fig.text(*px(tx, y), label, fontsize=37.3, ha='left', va='center', zorder=30)

band_legend = [
    (651, 763, '$p$', RED), (838, 952, 'He', OLIVE), (1065, 1177, 'O*', GREEN),
    (1293, 1408, 'Fe*', BLUE), (1540, 1653, 'total', 'black'),
]
for bx, tx, label, color in band_legend:
    x0, y0 = px(bx, 966)
    fig.add_artist(Rectangle((x0, y0), 94 / W, 46 / H, transform=fig.transFigure, facecolor=color,
                             edgecolor=color, alpha=0.3, lw=2.5, zorder=30))
    fig.text(*px(tx, 950), label, fontsize=45, ha='left', va='center', zorder=30)

bottom_legend = [
    (663, 702, 1024, 'ACE-CRIS', '^', 19), (980, 1016, 1024, 'PAMELA', '*', 30),
    (1277, 1311, 1024, 'Spacelab-2', 'v', 19), (1586, 1622, 1024, 'H.E.S.S.', 'p', 19),
    (663, 702, 1096, 'HEAO', 'D', 18), (980, 1016, 1096, 'AMS-02', 'o', 19), (1275, 1311, 1096, 'CREAM', 's', 18),
]
for mx, tx, y, label, m, ms in bottom_legend:
    xf, yf = px(mx, y)
    fig.add_artist(Line2D([xf], [yf], marker=m, ms=ms, mfc='black', mec='black', mew=0, ls='none', zorder=30))
    fig.text(*px(tx, y + 5), label, fontsize=36.6, ha='left', va='center', zorder=30)

fig.savefig('out.png', dpi=100)
